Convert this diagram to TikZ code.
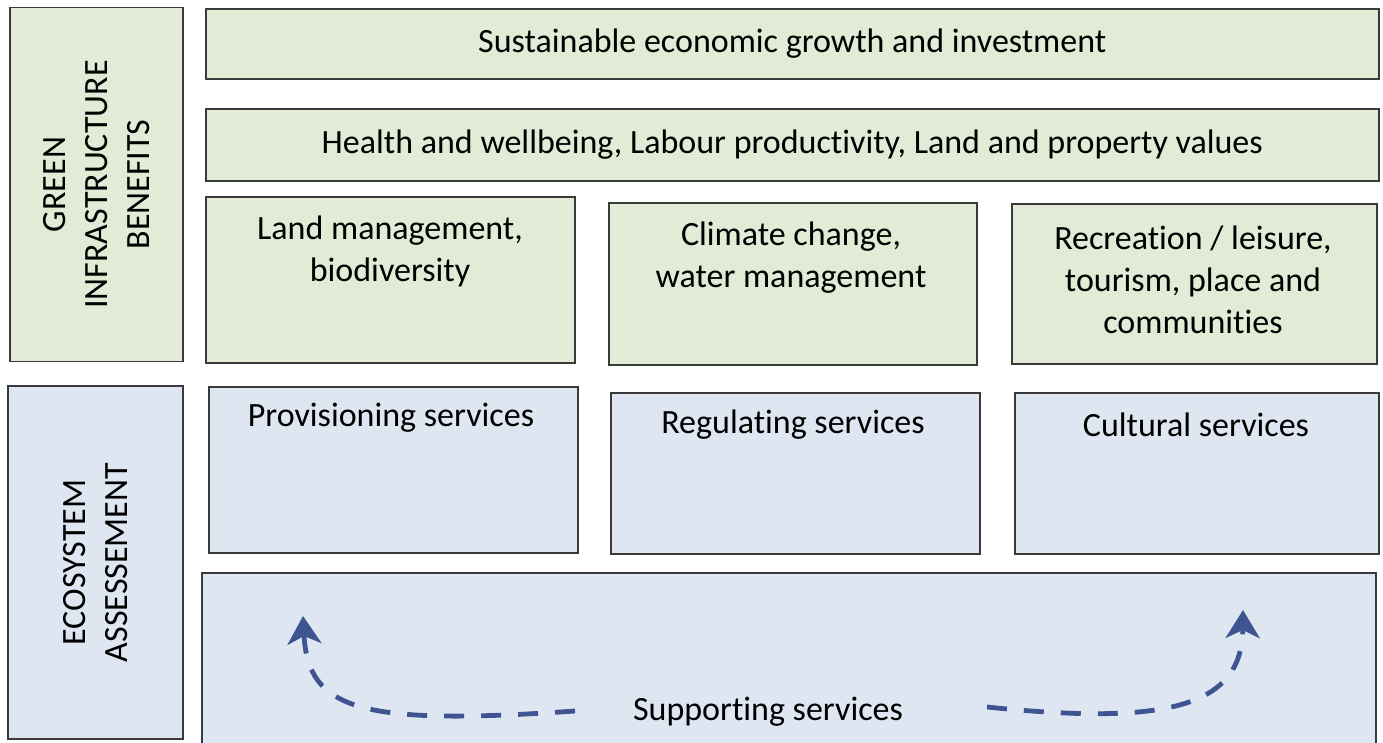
\documentclass[tikz,border=0pt]{standalone}
\usepackage{fontspec}
\setmainfont{Carlito}[Ligatures=NoCommon]
\usetikzlibrary{arrows.meta,positioning}

\definecolor{gifill}{HTML}{E2EBD6}
\definecolor{esfill}{HTML}{DEE6F2}
\definecolor{boxline}{HTML}{3A3A3A}
\definecolor{flow}{HTML}{3F5592}

\tikzset{
  gibox/.style={draw=boxline, line width=1.6pt, fill=gifill, anchor=north west, inner sep=0pt, align=center, font=\fontsize{34}{42}\selectfont},
  esbox/.style={gibox, fill=esfill},
  boxtext/.style={align=center, font=\fontsize{34}{42}\selectfont},
  flowarrow/.style={draw=flow, line width=4.8pt, dash pattern=on 20pt off 17pt, -{Stealth[length=28pt,width=34pt,inset=8pt]}}
}

\begin{document}
\begin{tikzpicture}[x=1pt, y=-1pt]
  \clip (0,0) rectangle (1383,742);

  % side headings
  \node[gibox, anchor=center, rotate=90, minimum width=354, minimum height=173] (gib) at (96.5,184.5) {GREEN\\INFRASTRUCTURE\\BENEFITS};
  \node[esbox, anchor=center, rotate=90, minimum width=353, minimum height=175] (esa) at (95.5,562.5) {ECOSYSTEM\\ASSESSEMENT};

  % benefits
  \node[gibox, minimum width=1173, minimum height=70] (growth) at (205,8) {Sustainable economic growth and investment};
  \node[gibox, minimum width=1173, minimum height=72] (health) at (205,108) {Health and wellbeing, Labour productivity, Land and property values};
  \node[gibox, minimum width=369, minimum height=166] (land) at (205,196) {};
  \node[gibox, minimum width=368, minimum height=162] (climate) at (608,202) {};
  \node[gibox, minimum width=365, minimum height=160] (recreation) at (1011,203) {};
  \node[boxtext] (landtxt) at (390,251) {Land management,\\biodiversity};
  \node[boxtext] (climatetxt) at (791,258) {Climate change,\\water management};
  \node[boxtext] (recreationtxt) at (1193,280) {Recreation / leisure,\\tourism, place and\\communities};

  % ecosystem services
  \node[esbox, minimum width=369, minimum height=166] (prov) at (208,386) {};
  \node[esbox, minimum width=369, minimum height=161] (reg) at (610,392) {};
  \node[esbox, minimum width=364, minimum height=161] (cult) at (1014,392) {};
  \node[esbox, minimum width=1174, minimum height=200] (sup) at (201,572) {};
  \node[boxtext] (provtxt) at (391,418) {Provisioning services};
  \node[boxtext] (regtxt) at (793,425) {Regulating services};
  \node[boxtext] (culttxt) at (1196,425) {Cultural services};
  \node[boxtext] (suptxt) at (768,712) {Supporting services};

  % supporting flows
  \coordinate (lstart) at (575,711);
  \coordinate (ltip) at (303,616);
  \coordinate (rstart) at (987,707);
  \coordinate (rtip) at (1243,610);
  \draw[flowarrow] (lstart) .. controls (360,726) and (308,710) .. (ltip);
  \draw[flowarrow] (rstart) .. controls (1170,726) and (1242,706) .. (rtip);
\end{tikzpicture}
\end{document}
